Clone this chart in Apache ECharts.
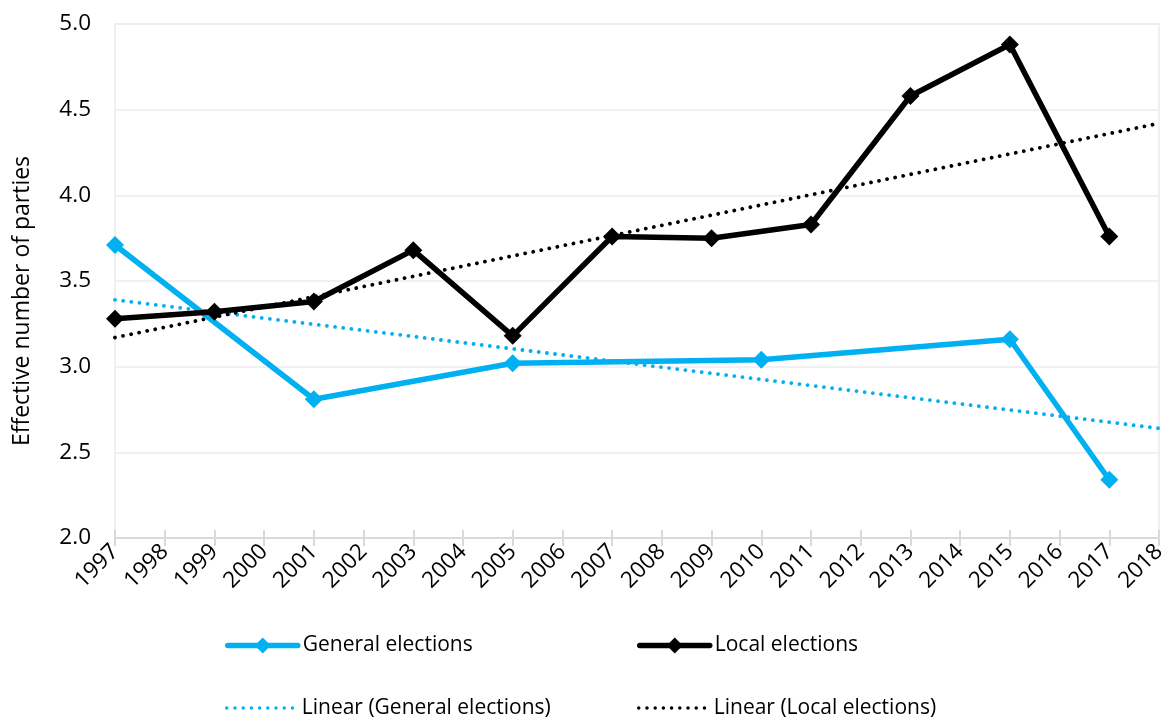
<!DOCTYPE html>
<html>
<head>
<meta charset="utf-8">
<title>Effective number of parties</title>
<script src="https://cdn.jsdelivr.net/npm/echarts@6/dist/echarts.min.js"></script>
<style>
  html, body { margin: 0; padding: 0; background: #ffffff; }
  #chart { width: 1171px; height: 722px; }
</style>
</head>
<body>
<div id="chart"></div>
<script>
// Election years and effective number of parties
const generalYears = [1997, 2001, 2005, 2010, 2015, 2017];
const generalValues = [3.71, 2.81, 3.02, 3.04, 3.16, 2.34];
const localYears = [1997, 1999, 2001, 2003, 2005, 2007, 2009, 2011, 2013, 2015, 2017];
const localValues = [3.28, 3.32, 3.38, 3.68, 3.18, 3.76, 3.75, 3.83, 4.58, 4.88, 3.76];

// Linear trend end points (start and end of the x range)
const trendYears = [1997, 2018];
const generalTrend = [3.39, 2.64];
const localTrend = [3.17, 4.42];

const yearMin = 1997, yearMax = 2018;

const seriesNames = ['General elections', 'Local elections',
  'Linear (General elections)', 'Linear (Local elections)'];

const BLUE = '#00B0F0';
const BLACK = '#000000';
const FONT = '"Open Sans", "Noto Sans", sans-serif';

const pairs = (xs, ys) => xs.map((x, i) => [x, ys[i]]);

const chart = echarts.init(document.getElementById('chart'), null, { renderer: 'canvas' });

const dotted = (color) => ({ color: color, width: 3.8, type: [0.01, 8.2], cap: 'round' });

function legendAt(name, left, centerY, isTrend) {
  const h = isTrend ? 15 : 20;
  const lg = {
    data: [name], left: left, top: centerY - h / 2, orient: 'horizontal',
    itemWidth: 70, itemHeight: h, itemGap: 3, padding: 0,
    textStyle: { fontFamily: FONT, fontSize: 21, color: '#000' },
    selectedMode: false
  };
  if (isTrend) {
    lg.itemStyle = { opacity: 0 };
    lg.lineStyle = { width: 3.5, type: [0.01, 8.2], cap: 'round' };
  } else {
    lg.lineStyle = { width: 5.5, cap: 'round' };
  }
  return lg;
}

chart.setOption({
  animation: false,
  backgroundColor: '#ffffff',
  grid: {
    left: 115, right: 12, top: 24, bottom: 184,
    show: true, borderColor: '#ececec', borderWidth: 1.5
  },
  legend: [
    legendAt(seriesNames[0], 225, 645, false),
    legendAt(seriesNames[1], 637, 645, false),
    legendAt(seriesNames[2], 225, 705, true),
    legendAt(seriesNames[3], 637, 705, true)
  ],
  graphic: [{
    type: 'text', x: 22, y: 301, rotation: Math.PI / 2,
    style: {
      text: 'Effective number of parties', fontFamily: FONT, fontSize: 23,
      fill: '#000', align: 'center', verticalAlign: 'middle'
    }
  }],
  xAxis: [{
    type: 'value', min: yearMin, max: yearMax, interval: 1,
    axisLine: { show: true, lineStyle: { color: '#d9d9d9', width: 2 } },
    axisTick: { show: true, length: 8, lineStyle: { color: '#d9d9d9', width: 2 } },
    splitLine: { show: false },
    axisLabel: {
      rotate: 45, margin: 10, fontFamily: FONT, fontSize: 22.5, color: '#000',
      formatter: (v) => String(v)
    }
  }, {
    // inner half of the crossing tick marks
    type: 'value', min: yearMin, max: yearMax, interval: 1, position: 'bottom',
    axisLine: { show: false },
    axisTick: { show: true, inside: true, length: 8, lineStyle: { color: '#d9d9d9', width: 2 } },
    axisLabel: { show: false }, splitLine: { show: false }
  }],
  yAxis: {
    type: 'value', min: 2, max: 5, interval: 0.5,
    axisLine: { show: false }, axisTick: { show: false },
    splitLine: { show: true, lineStyle: { color: '#ececec', width: 1.5 } },
    axisLabel: {
      margin: 24, fontFamily: FONT, fontSize: 22.5, color: '#000',
      formatter: (v) => v.toFixed(1)
    }
  },
  series: [
    {
      name: seriesNames[2], type: 'line', data: pairs(trendYears, generalTrend),
      showSymbol: false, symbol: 'none', lineStyle: dotted(BLUE), itemStyle: { color: BLUE }, z: 1
    },
    {
      name: seriesNames[3], type: 'line', data: pairs(trendYears, localTrend),
      showSymbol: false, symbol: 'none', lineStyle: dotted(BLACK), itemStyle: { color: BLACK }, z: 1
    },
    {
      name: seriesNames[0], type: 'line', data: pairs(generalYears, generalValues),
      symbol: 'diamond', symbolSize: 18, lineStyle: { color: BLUE, width: 5.5 },
      itemStyle: { color: BLUE }, z: 2
    },
    {
      name: seriesNames[1], type: 'line', data: pairs(localYears, localValues),
      symbol: 'diamond', symbolSize: 18, lineStyle: { color: BLACK, width: 5.5 },
      itemStyle: { color: BLACK }, z: 3
    }
  ]
});
</script>
</body>
</html>
